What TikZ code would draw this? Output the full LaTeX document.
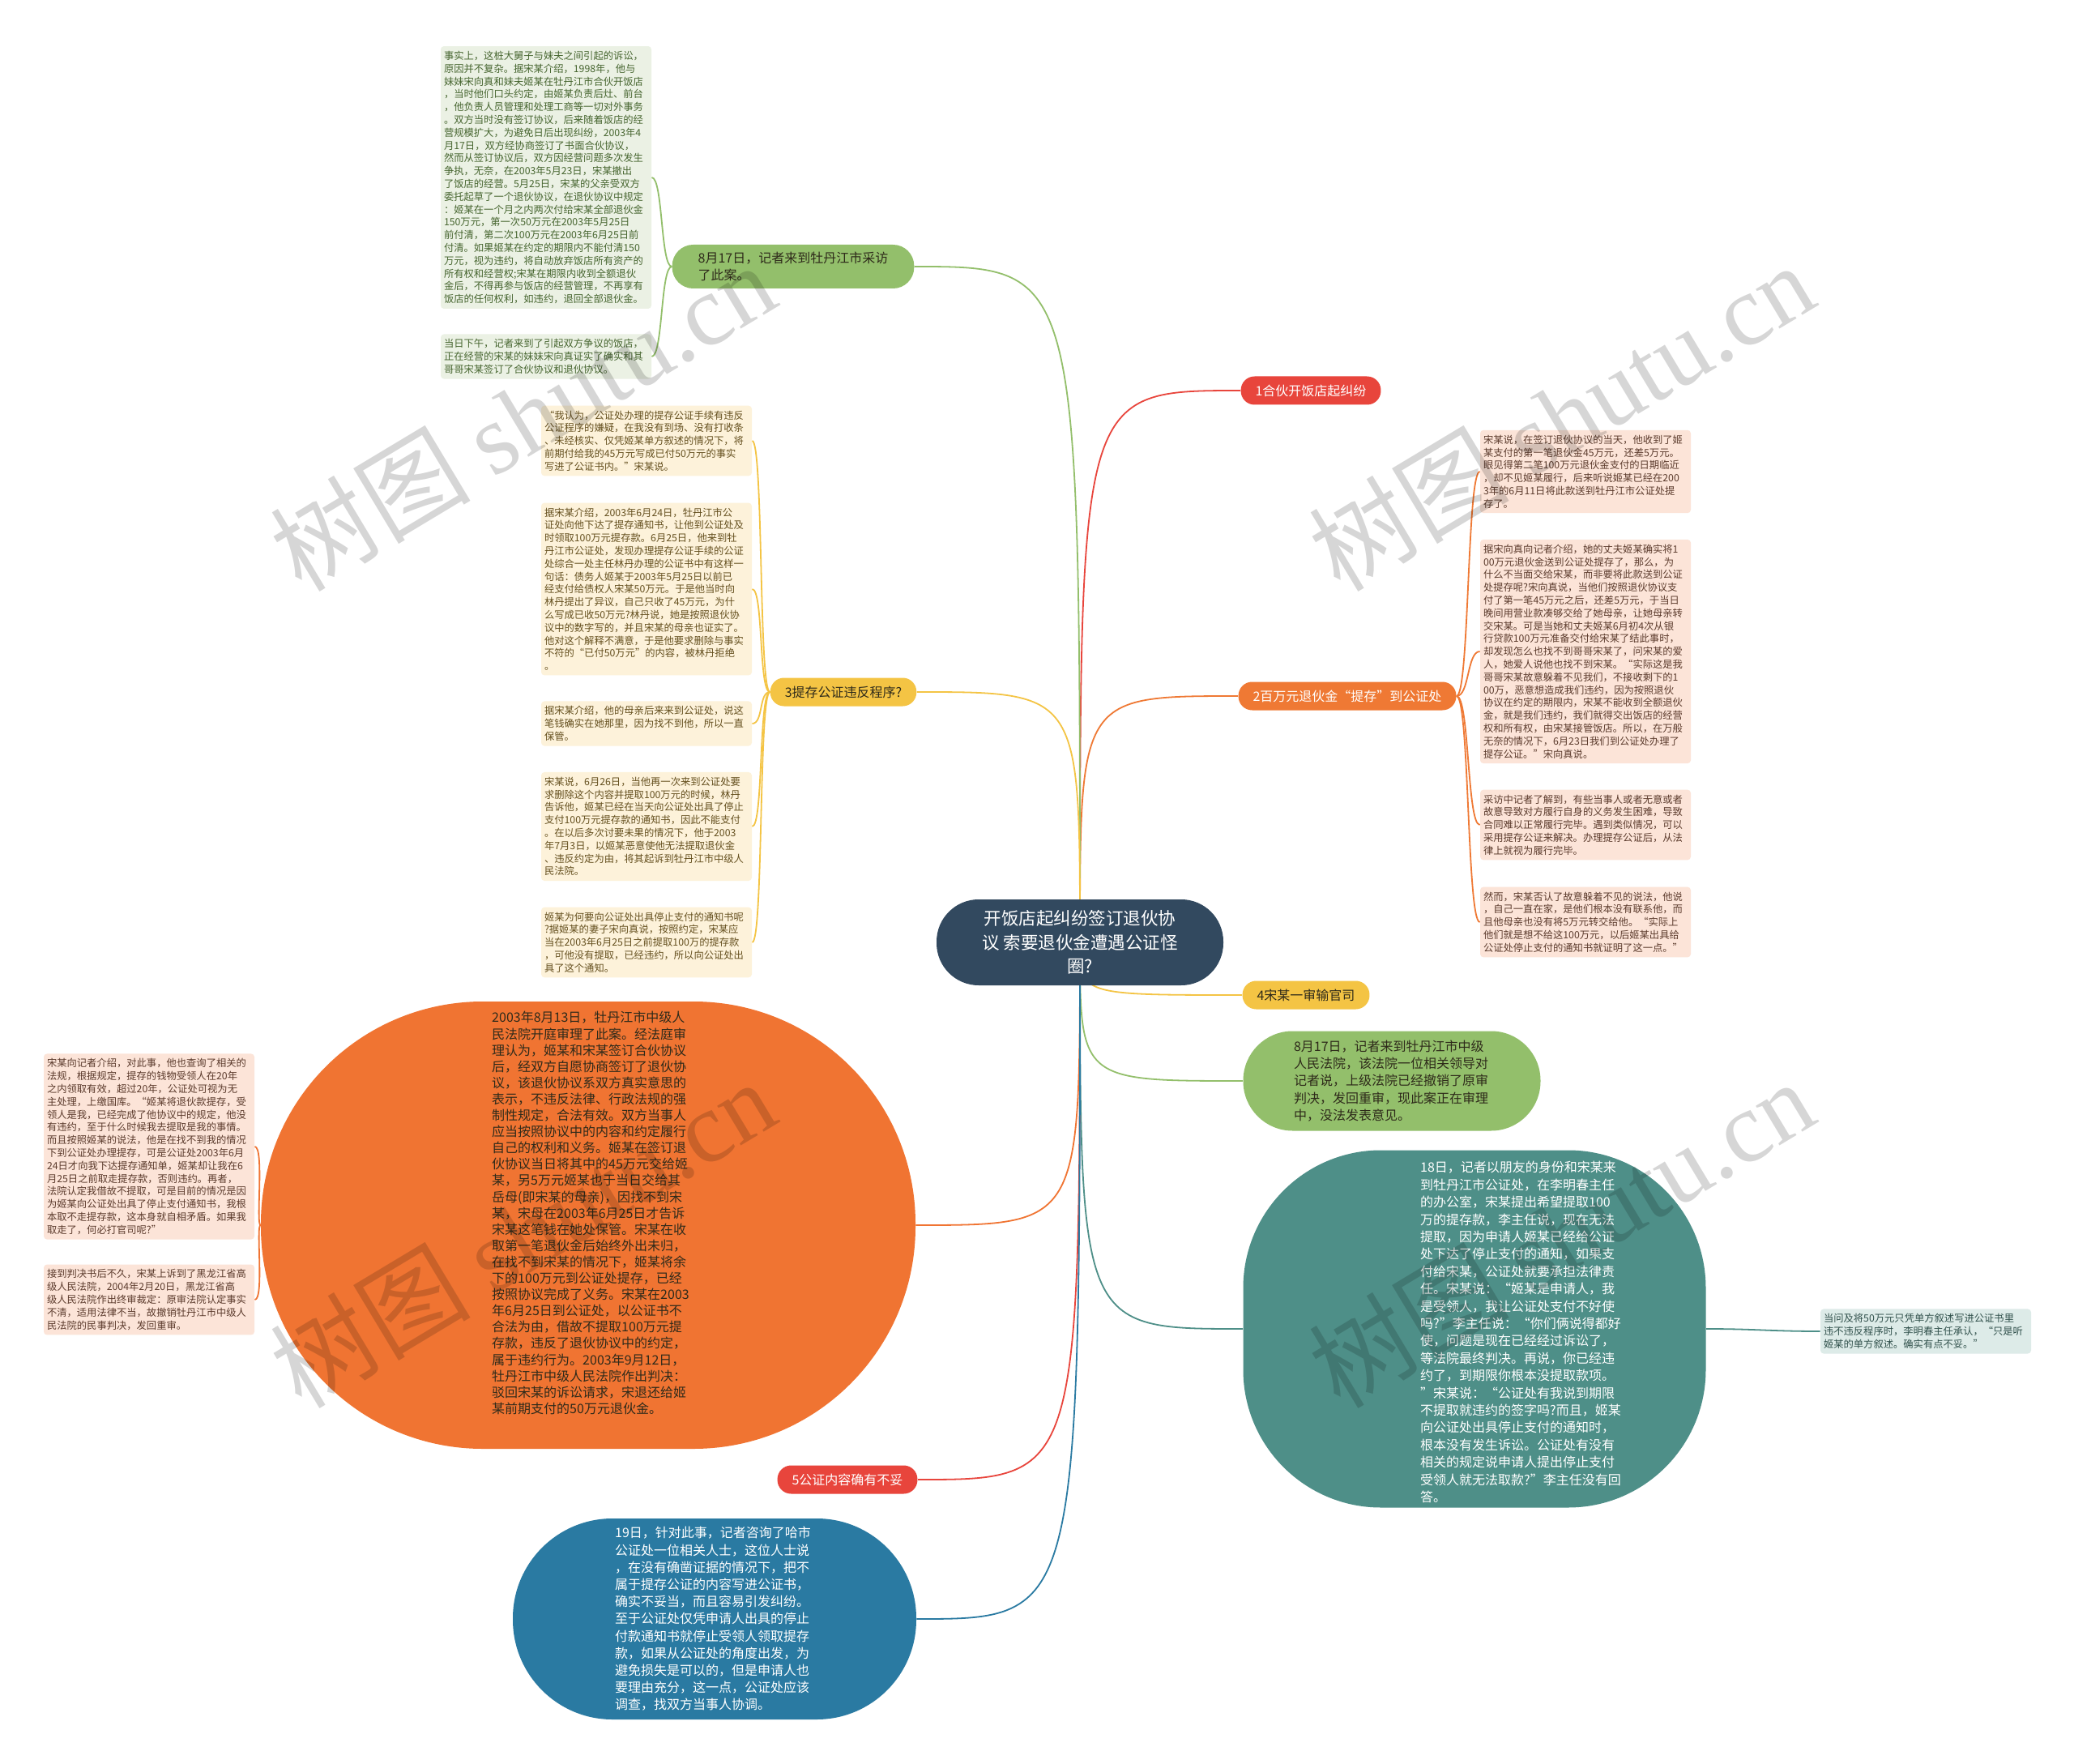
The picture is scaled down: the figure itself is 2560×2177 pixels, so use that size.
\documentclass[tikz,border=0pt]{standalone}
\usepackage{fontspec}
\setmainfont{Noto Sans CJK SC}
\newfontfamily\wmserif{Liberation Serif}
\usepackage{xcolor}
\usepackage{tikz}
\usetikzlibrary{
    backgrounds
}
\definecolor{rootblue}{HTML}{32495F}
\definecolor{leafgreen}{HTML}{93BF6B}
\definecolor{topred}{HTML}{E8453C}
\definecolor{toporange}{HTML}{EF7934}
\definecolor{topyellow}{HTML}{F4C444}
\definecolor{bloborange}{HTML}{F07432}
\definecolor{topteal}{HTML}{4E8F88}
\definecolor{topblue}{HTML}{2A7AA2}
\definecolor{greenfill}{HTML}{EBF1E4}
\definecolor{greentext}{HTML}{46652F}
\definecolor{yellowfill}{HTML}{FDF2DA}
\definecolor{yellowtext}{HTML}{65501F}
\definecolor{peachfill}{HTML}{FCE4D8}
\definecolor{peachtext}{HTML}{5B3A2C}
\definecolor{tealfill}{HTML}{DDEBE8}
\definecolor{tealtext}{HTML}{30504B}
\definecolor{darktext}{HTML}{2E2A1A}
\tikzset{
    root/.style={
        fill=rootblue,
        text=white,
        rounded corners=26pt,
        minimum width=177pt,
        minimum height=53pt,
        align=center,
        inner sep=2pt,
        font=\fontsize{10.75}{14.7}\selectfont
    }
}
\tikzset{
    branch/.style={
        rounded corners=8.5pt,
        minimum height=17.5pt,
        inner xsep=9pt,
        inner ysep=2pt,
        font=\fontsize{8}{10.5}\selectfont
    }
}
\tikzset{
    note/.style={
        rounded corners=2pt,
        text width=126pt,
        align=left,
        inner xsep=2pt,
        inner ysep=3pt,
        font=\fontsize{6.15}{7.9}\selectfont
    }
}
\tikzset{
    blob/.style={
        inner sep=0pt
    }
}
\tikzset{
    blobtext/.style={
        align=left,
        inner sep=0pt,
        font=\fontsize{8}{10.6}\selectfont
    }
}
\tikzset{
    link/.style={
        line width=0.9pt
    }
}
\tikzset{
    watermark/.style={
        text=black,
        opacity=0.16,
        rotate=31,
        inner sep=0pt,
        font=\fontsize{62}{62}\selectfont
    }
}

\begin{document}
\begin{tikzpicture}[x=0.5pt, y=-0.5pt]

\useasboundingbox (0,0) rectangle (2560,2177);

% ------------------------------------------------------------
% Central topic
% ------------------------------------------------------------

\node[root] (root) at (1333,1163)
    {开饭店起纠纷签订退伙协\\议 索要退伙金遭遇公证怪\\圈?};

% ------------------------------------------------------------
% Main branches
% ------------------------------------------------------------

\node[branch, fill=leafgreen, text=darktext, align=left, minimum height=27pt,
      rounded corners=13pt, inner xsep=16pt] (t817) at (979,329)
    {8月17日，记者来到牡丹江市采访\\了此案。};
\node[branch, fill=topred, text=white] (tpartner) at (1618,482) {1合伙开饭店起纠纷};
\node[branch, fill=toporange, text=white] (tdeposit) at (1663,859) {2百万元退伙金“提存”到公证处};
\node[branch, fill=topyellow, text=darktext] (tprocedure) at (1041,854) {3提存公证违反程序?};
\node[branch, fill=topyellow, text=darktext] (tverdict) at (1612,1228) {4宋某一审输官司};
\node[branch, fill=topred, text=white] (tflaw) at (1046,1826) {5公证内容确有不妥};

% long topics
\node[blob, fill=leafgreen, minimum width=183.5pt, minimum height=61.5pt,
      rounded corners=30.5pt] (tcourt) at (1718,1334) {};
\node[blobtext, text=darktext] (tcourt-text) at (1717,1334)
    {8月17日，记者来到牡丹江市中级\\
     人民法院，该法院一位相关领导对\\
     记者说，上级法院已经撤销了原审\\
     判决，发回重审，现此案正在审理\\
     中，没法发表意见。};

\node[blob, fill=topteal, minimum width=285.5pt, minimum height=220.5pt,
      rounded corners=85pt] (tvisit) at (1820,1640) {};
\node[blobtext, text=white, font=\fontsize{8}{10.7}\selectfont] (tvisit-text) at (1877,1644)
    {18日，记者以朋友的身份和宋某来\\
     到牡丹江市公证处，在李明春主任\\
     的办公室，宋某提出希望提取100\\
     万的提存款，李主任说，现在无法\\
     提取，因为申请人姬某已经给公证\\
     处下达了停止支付的通知，如果支\\
     付给宋某，公证处就要承担法律责\\
     任。宋某说：“姬某是申请人，我\\
     是受领人，我让公证处支付不好使\\
     吗?”李主任说：“你们俩说得都好\\
     使，问题是现在已经经过诉讼了，\\
     等法院最终判决。再说，你已经违\\
     约了，到期限你根本没提取款项。\\
     ”宋某说：“公证处有我说到期限\\
     不提取就违约的签字吗?而且，姬某\\
     向公证处出具停止支付的通知时，\\
     根本没有发生诉讼。公证处有没有\\
     相关的规定说申请人提出停止支付\\
     受领人就无法取款?”李主任没有回\\
     答。};

\node[blob, fill=bloborange, minimum width=404pt, minimum height=276pt,
      rounded corners=137pt] (tjudgment) at (726,1512) {};
\node[blobtext, text=darktext, font=\fontsize{8}{10.05}\selectfont] (tjudgment-text) at (729,1497)
    {2003年8月13日，牡丹江市中级人\\
     民法院开庭审理了此案。经法庭审\\
     理认为，姬某和宋某签订合伙协议\\
     后，经双方自愿协商签订了退伙协\\
     议，该退伙协议系双方真实意思的\\
     表示，不违反法律、行政法规的强\\
     制性规定，合法有效。双方当事人\\
     应当按照协议中的内容和约定履行\\
     自己的权利和义务。姬某在签订退\\
     伙协议当日将其中的45万元交给姬\\
     某，另5万元姬某也于当日交给其\\
     岳母(即宋某的母亲)，因找不到宋\\
     某，宋母在2003年6月25日才告诉\\
     宋某这笔钱在她处保管。宋某在收\\
     取第一笔退伙金后始终外出未归，\\
     在找不到宋某的情况下，姬某将余\\
     下的100万元到公证处提存，已经\\
     按照协议完成了义务。宋某在2003\\
     年6月25日到公证处，以公证书不\\
     合法为由，借故不提取100万元提\\
     存款，违反了退伙协议中的约定，\\
     属于违约行为。2003年9月12日，\\
     牡丹江市中级人民法院作出判决：\\
     驳回宋某的诉讼请求，宋退还给姬\\
     某前期支付的50万元退伙金。};

\node[blob, fill=topblue, minimum width=249pt, minimum height=124pt,
      rounded corners=61.5pt] (tadvice) at (882,1998) {};
\node[blobtext, text=white, font=\fontsize{8}{10.6}\selectfont] (tadvice-text) at (880,1998)
    {19日，针对此事，记者咨询了哈市\\
     公证处一位相关人士，这位人士说\\
     ，在没有确凿证据的情况下，把不\\
     属于提存公证的内容写进公证书，\\
     确实不妥当，而且容易引发纠纷。\\
     至于公证处仅凭申请人出具的停止\\
     付款通知书就停止受领人领取提存\\
     款，如果从公证处的角度出发，为\\
     避免损失是可以的，但是申请人也\\
     要理由充分，这一点，公证处应该\\
     调查，找双方当事人协调。};

% ------------------------------------------------------------
% Notes of 8月17日
% ------------------------------------------------------------

\node[note, fill=greenfill, text=greentext] (tb1) at (674,219)
    {事实上，这桩大舅子与妹夫之间引起的诉讼，\\
     原因并不复杂。据宋某介绍，1998年，他与\\
     妹妹宋向真和妹夫姬某在牡丹江市合伙开饭店\\
     ，当时他们口头约定，由姬某负责后灶、前台\\
     ，他负责人员管理和处理工商等一切对外事务\\
     。双方当时没有签订协议，后来随着饭店的经\\
     营规模扩大，为避免日后出现纠纷，2003年4\\
     月17日，双方经协商签订了书面合伙协议，\\
     然而从签订协议后，双方因经营问题多次发生\\
     争执，无奈，在2003年5月23日，宋某撤出\\
     了饭店的经营。5月25日，宋某的父亲受双方\\
     委托起草了一个退伙协议，在退伙协议中规定\\
     ：姬某在一个月之内两次付给宋某全部退伙金\\
     150万元，第一次50万元在2003年5月25日\\
     前付清，第二次100万元在2003年6月25日前\\
     付清。如果姬某在约定的期限内不能付清150\\
     万元，视为违约，将自动放弃饭店所有资产的\\
     所有权和经营权;宋某在期限内收到全额退伙\\
     金后，不得再参与饭店的经营管理，不再享有\\
     饭店的任何权利，如违约，退回全部退伙金。};
\node[note, fill=greenfill, text=greentext] (tb2) at (674,440)
    {当日下午，记者来到了引起双方争议的饭店，\\
     正在经营的宋某的妹妹宋向真证实了确实和其\\
     哥哥宋某签订了合伙协议和退伙协议。};

% ------------------------------------------------------------
% Notes of 3提存公证违反程序?
% ------------------------------------------------------------

\node[note, fill=yellowfill, text=yellowtext] (l1) at (798,544)
    {“我认为，公证处办理的提存公证手续有违反\\
     公证程序的嫌疑，在我没有到场、没有打收条\\
     、未经核实、仅凭姬某单方叙述的情况下，将\\
     前期付给我的45万元写成已付50万元的事实\\
     写进了公证书内。”宋某说。};
\node[note, fill=yellowfill, text=yellowtext] (l2) at (798,727)
    {据宋某介绍，2003年6月24日，牡丹江市公\\
     证处向他下达了提存通知书，让他到公证处及\\
     时领取100万元提存款。6月25日，他来到牡\\
     丹江市公证处，发现办理提存公证手续的公证\\
     处综合一处主任林丹办理的公证书中有这样一\\
     句话：债务人姬某于2003年5月25日以前已\\
     经支付给债权人宋某50万元。于是他当时向\\
     林丹提出了异议，自己只收了45万元，为什\\
     么写成已收50万元?林丹说，她是按照退伙协\\
     议中的数字写的，并且宋某的母亲也证实了。\\
     他对这个解释不满意，于是他要求删除与事实\\
     不符的“已付50万元”的内容，被林丹拒绝\\
     。};
\node[note, fill=yellowfill, text=yellowtext] (l3) at (798,893)
    {据宋某介绍，他的母亲后来来到公证处，说这\\
     笔钱确实在她那里，因为找不到他，所以一直\\
     保管。};
\node[note, fill=yellowfill, text=yellowtext] (l4) at (798,1020)
    {宋某说，6月26日，当他再一次来到公证处要\\
     求删除这个内容并提取100万元的时候，林丹\\
     告诉他，姬某已经在当天向公证处出具了停止\\
     支付100万元提存款的通知书，因此不能支付\\
     。在以后多次讨要未果的情况下，他于2003\\
     年7月3日，以姬某恶意使他无法提取退伙金\\
     、违反约定为由，将其起诉到牡丹江市中级人\\
     民法院。};
\node[note, fill=yellowfill, text=yellowtext] (l5) at (798,1163)
    {姬某为何要向公证处出具停止支付的通知书呢\\
     ?据姬某的妻子宋向真说，按照约定，宋某应\\
     当在2003年6月25日之前提取100万的提存款\\
     ，可他没有提取，已经违约，所以向公证处出\\
     具了这个通知。};

% ------------------------------------------------------------
% Notes of 2百万元退伙金
% ------------------------------------------------------------

\node[note, fill=peachfill, text=peachtext] (r1) at (1957,582)
    {宋某说，在签订退伙协议的当天，他收到了姬\\
     某支付的第一笔退伙金45万元，还差5万元。\\
     眼见得第二笔100万元退伙金支付的日期临近\\
     ，却不见姬某履行，后来听说姬某已经在200\\
     3年的6月11日将此款送到牡丹江市公证处提\\
     存了。};
\node[note, fill=peachfill, text=peachtext] (r2) at (1957,804)
    {据宋向真向记者介绍，她的丈夫姬某确实将1\\
     00万元退伙金送到公证处提存了，那么，为\\
     什么不当面交给宋某，而非要将此款送到公证\\
     处提存呢?宋向真说，当他们按照退伙协议支\\
     付了第一笔45万元之后，还差5万元，于当日\\
     晚间用营业款凑够交给了她母亲，让她母亲转\\
     交宋某。可是当她和丈夫姬某6月初4次从银\\
     行贷款100万元准备交付给宋某了结此事时，\\
     却发现怎么也找不到哥哥宋某了，问宋某的爱\\
     人，她爱人说他也找不到宋某。“实际这是我\\
     哥哥宋某故意躲着不见我们，不接收剩下的1\\
     00万，恶意想造成我们违约，因为按照退伙\\
     协议在约定的期限内，宋某不能收到全额退伙\\
     金，就是我们违约，我们就得交出饭店的经营\\
     权和所有权，由宋某接管饭店。所以，在万般\\
     无奈的情况下，6月23日我们到公证处办理了\\
     提存公证。”宋向真说。};
\node[note, fill=peachfill, text=peachtext] (r3) at (1957,1018)
    {采访中记者了解到，有些当事人或者无意或者\\
     故意导致对方履行自身的义务发生困难，导致\\
     合同难以正常履行完毕。遇到类似情况，可以\\
     采用提存公证来解决。办理提存公证后，从法\\
     律上就视为履行完毕。};
\node[note, fill=peachfill, text=peachtext] (r4) at (1957,1138)
    {然而，宋某否认了故意躲着不见的说法，他说\\
     ，自己一直在家，是他们根本没有联系他，而\\
     且他母亲也没有将5万元转交给他。“实际上\\
     他们就是想不给这100万元，以后姬某出具给\\
     公证处停止支付的通知书就证明了这一点。”};

% ------------------------------------------------------------
% Notes of the judgment and of the visit
% ------------------------------------------------------------

\node[note, fill=peachfill, text=peachtext] (lb1) at (184,1415)
    {宋某向记者介绍，对此事，他也查询了相关的\\
     法规，根据规定，提存的钱物受领人在20年\\
     之内领取有效，超过20年，公证处可视为无\\
     主处理，上缴国库。“姬某将退伙款提存，受\\
     领人是我，已经完成了他协议中的规定，他没\\
     有违约，至于什么时候我去提取是我的事情。\\
     而且按照姬某的说法，他是在找不到我的情况\\
     下到公证处办理提存，可是公证处2003年6月\\
     24日才向我下达提存通知单，姬某却让我在6\\
     月25日之前取走提存款，否则违约。再者，\\
     法院认定我借故不提取，可是目前的情况是因\\
     为姬某向公证处出具了停止支付通知书，我根\\
     本取不走提存款，这本身就自相矛盾。如果我\\
     取走了，何必打官司呢?”};
\node[note, fill=peachfill, text=peachtext] (lb2) at (184,1604)
    {接到判决书后不久，宋某上诉到了黑龙江省高\\
     级人民法院，2004年2月20日，黑龙江省高\\
     级人民法院作出终审裁定：原审法院认定事实\\
     不清，适用法律不当，故撤销牡丹江市中级人\\
     民法院的民事判决，发回重审。};

\node[note, fill=tealfill, text=tealtext] (tr1) at (2377,1643)
    {当问及将50万元只凭单方叙述写进公证书里\\
     违不违反程序时，李明春主任承认，“只是听\\
     姬某的单方叙述。确实有点不妥。”};

% ------------------------------------------------------------
% Connectors
% ------------------------------------------------------------

\begin{scope}[on background layer]
\fill[white] (0,0) rectangle (2560,2177);

% right of the root
\foreach \t/\c in {tpartner/topred, tdeposit/toporange, tverdict/topyellow,
                   tcourt/leafgreen, tvisit/topteal} {
    \draw[link, draw=\c] (root.center) .. controls (root.center |- \t.west) .. (\t.west);
}
% left of the root
\foreach \t/\c in {t817/leafgreen, tprocedure/topyellow, tjudgment/bloborange,
                   tflaw/topred, tadvice/topblue} {
    \draw[link, draw=\c] (root.center) .. controls (root.center |- \t.east) .. (\t.east);
}

\foreach \n in {tb1,tb2} {
    \draw[link, draw=leafgreen] (t817.west) .. controls +(-14,0) and +(14,0) .. (\n.east);
}
\foreach \n in {l1,l2,l3,l4,l5} {
    \draw[link, draw=topyellow] (tprocedure.west) .. controls +(-14,0) and +(14,0) .. (\n.east);
}
\foreach \n in {r1,r2,r3,r4} {
    \draw[link, draw=toporange] (tdeposit.east) .. controls +(16,0) and +(-16,0) .. (\n.west);
}
\foreach \n in {lb1,lb2} {
    \draw[link, draw=bloborange] (tjudgment.west) .. controls +(-6,0) and +(12,0) .. (\n.east);
}
\draw[link, draw=topteal] (tvisit.east) .. controls +(60,0) and +(-60,0) .. (tr1.west);
\end{scope}

% ------------------------------------------------------------
% Watermarks
% ------------------------------------------------------------

\foreach \x/\y [count=\i] in {645/514, 1927/514, 645/1522, 1927/1522} {
    \node[watermark] (wm\i) at (\x,\y) {树图 {\wmserif shutu.cn}};
}

\end{tikzpicture}
\end{document}
